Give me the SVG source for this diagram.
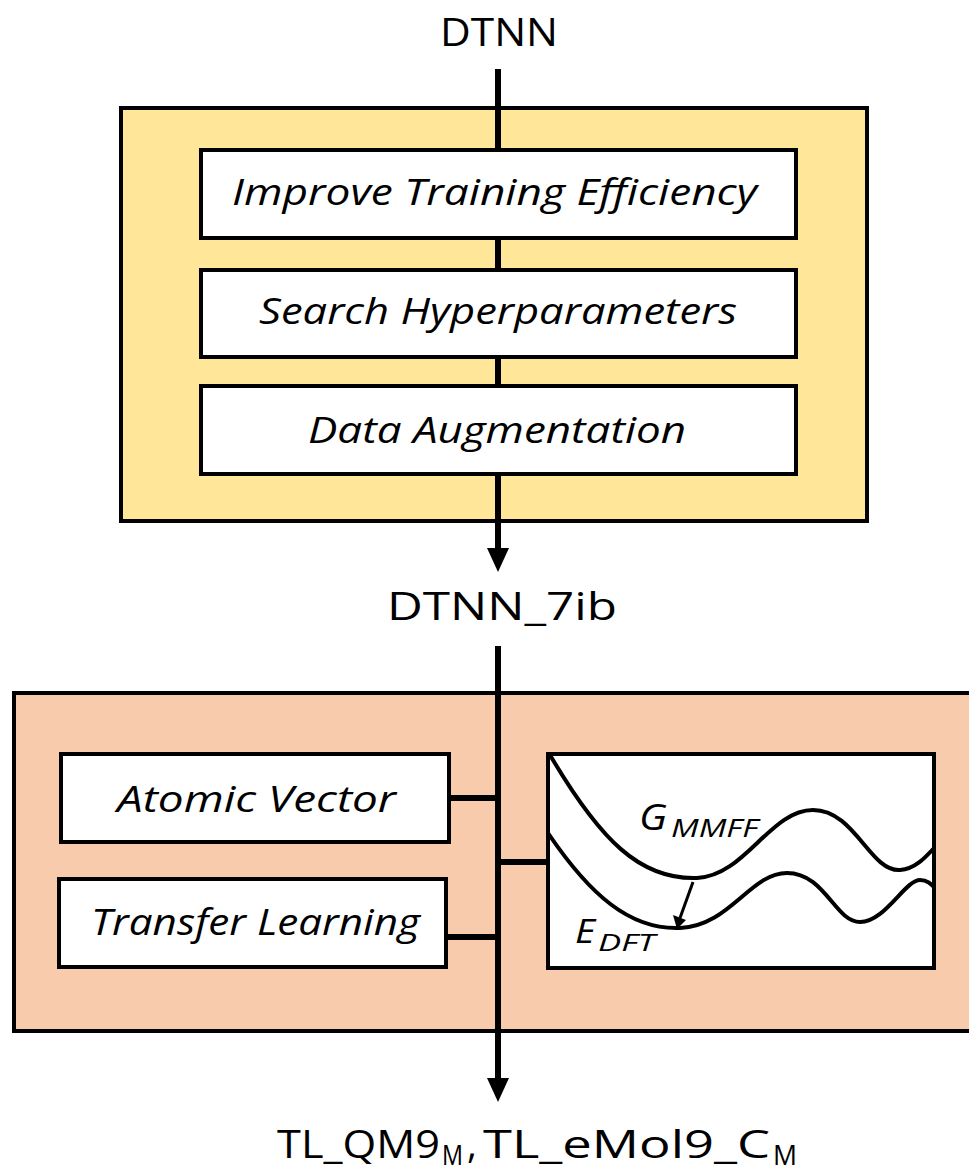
<svg xmlns="http://www.w3.org/2000/svg" width="969" height="1171" viewBox="0 0 969 1171">
<style>
  .t{font-family:"Open Sans","Liberation Sans",sans-serif;font-weight:400;fill:#000}
  .lbl{font-size:38px}
  .it{font-size:37px;font-style:italic}
  .box{fill:#fff;stroke:#000;stroke-width:4}
  .con{stroke:#000;stroke-width:6;fill:none}
  .crv{stroke:#000;stroke-width:4;fill:none;stroke-linecap:round}
</style>
<defs>
  <clipPath id="gclip"><rect x="548" y="754" width="386" height="214"/></clipPath>
</defs>

<g id="panel-yellow">
  <rect x="121" y="108" width="746" height="413" fill="#FFE699" stroke="#000" stroke-width="4"/>
</g>
<g id="panel-salmon">
  <rect x="14" y="693" width="975" height="338" fill="#F8CBAD" stroke="#000" stroke-width="4"/>
</g>

<g id="connectors">
  <line class="con" x1="498" y1="69" x2="498" y2="150"/>
  <line class="con" x1="498" y1="238" x2="498" y2="270"/>
  <line class="con" x1="498" y1="357" x2="498" y2="386"/>
  <line class="con" x1="498" y1="474" x2="498" y2="550"/>
  <path d="M487,548 L509,548 L498,572 Z" fill="#000"/>
  <line class="con" x1="498" y1="646" x2="498" y2="1082"/>
  <path d="M487,1078 L509,1078 L498,1102 Z" fill="#000"/>
  <line class="con" x1="449" y1="798" x2="498" y2="798"/>
  <line class="con" x1="446" y1="937" x2="498" y2="937"/>
  <line class="con" x1="498" y1="862" x2="548" y2="862"/>
</g>

<g id="node-dtnn">
  <text class="t lbl" x="440" y="46" textLength="118" lengthAdjust="spacingAndGlyphs">DTNN</text>
</g>
<g id="node-improve">
  <rect class="box" x="201" y="150" width="595" height="88"/>
  <text class="t it" x="232" y="205" textLength="525" lengthAdjust="spacingAndGlyphs">Improve Training Efficiency</text>
</g>
<g id="node-search">
  <rect class="box" x="201" y="270" width="595" height="87"/>
  <text class="t it" x="259" y="324" textLength="478" lengthAdjust="spacingAndGlyphs">Search Hyperparameters</text>
</g>
<g id="node-augment">
  <rect class="box" x="201" y="386" width="595" height="88"/>
  <text class="t it" x="308" y="443" textLength="378" lengthAdjust="spacingAndGlyphs">Data Augmentation</text>
</g>
<g id="node-dtnn7ib">
  <text class="t lbl" x="387" y="620" textLength="230" lengthAdjust="spacingAndGlyphs">DTNN_7ib</text>
</g>
<g id="node-atomic">
  <rect class="box" x="61" y="754" width="388" height="88"/>
  <text class="t it" x="117" y="812" textLength="279" lengthAdjust="spacingAndGlyphs">Atomic Vector</text>
</g>
<g id="node-transfer">
  <rect class="box" x="59" y="879" width="387" height="88"/>
  <text class="t it" x="91" y="935" textLength="329" lengthAdjust="spacingAndGlyphs">Transfer Learning</text>
</g>
<g id="node-graph">
  <rect class="box" x="548" y="754" width="386" height="214"/>
  <g clip-path="url(#gclip)">
    <path class="crv" d="M550,755 C600,840 640,880 697,878 C745,876 770,810 813,810 C855,810 870,872 900,870 C915,869 925,858 936,846"/>
    <path class="crv" d="M548,833 C590,895 630,930 680,928 C730,926 750,873 787,873 C825,873 835,922 860,922 C885,922 905,880 920,880 C928,880 932,885 936,889"/>
  </g>
  <line x1="693" y1="882" x2="680" y2="918" stroke="#000" stroke-width="3"/>
  <path d="M673,915 L686,920 L677,929 Z" fill="#000"/>
  <text class="t" font-style="italic" font-size="36"><tspan x="639" y="830" textLength="28" lengthAdjust="spacingAndGlyphs">G</tspan><tspan x="671" y="837" font-size="25" textLength="87" lengthAdjust="spacingAndGlyphs">MMFF</tspan></text>
  <text class="t" font-style="italic" font-size="32"><tspan x="575" y="943" textLength="20" lengthAdjust="spacingAndGlyphs">E</tspan><tspan x="598" y="951" font-size="23" textLength="57" lengthAdjust="spacingAndGlyphs">DFT</tspan></text>
</g>
<g id="node-output">
  <text class="t lbl"><tspan x="277" y="1158" textLength="163" lengthAdjust="spacingAndGlyphs">TL_QM9</tspan><tspan x="442" y="1165" font-size="28" textLength="21" lengthAdjust="spacingAndGlyphs">M</tspan><tspan x="467" y="1158">,</tspan><tspan x="483" y="1158" textLength="287" lengthAdjust="spacingAndGlyphs">TL_eMol9_C</tspan><tspan x="773" y="1165" font-size="28" textLength="24" lengthAdjust="spacingAndGlyphs">M</tspan></text>
</g>
</svg>
